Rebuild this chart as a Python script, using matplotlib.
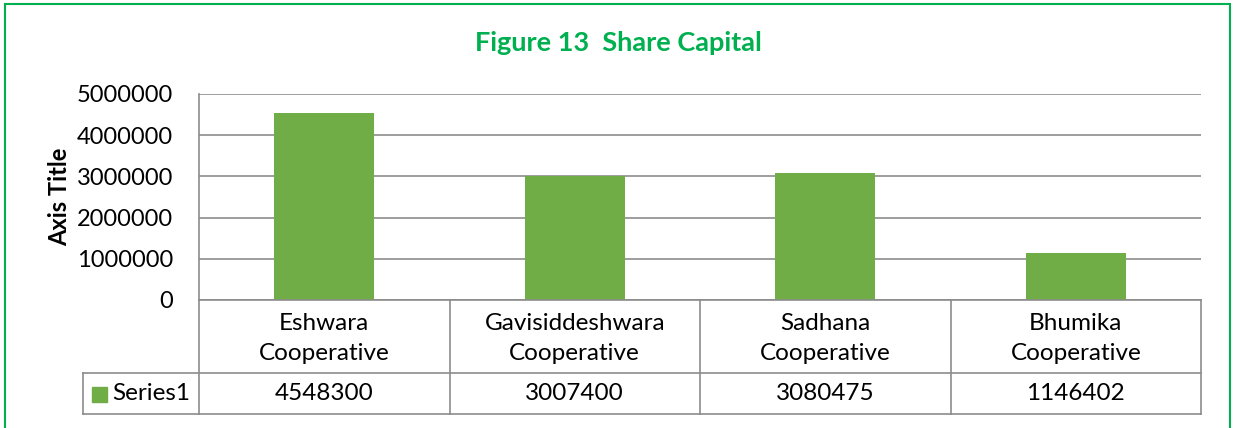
import matplotlib.pyplot as plt
from matplotlib.patches import Rectangle
from matplotlib.lines import Line2D
from matplotlib.transforms import blended_transform_factory

categories = ["Eshwara\nCooperative", "Gavisiddeshwara\nCooperative",
              "Sadhana\nCooperative", "Bhumika\nCooperative"]
values = [4548300, 3007400, 3080475, 1146402]
series_name = "Series1"
yticks = [0, 1000000, 2000000, 3000000, 4000000, 5000000]

W, H = 1236, 428
bar_color = "#70AD47"
grid_color = "#8C8C8C"
title_color = "#00B050"

plt.rcParams['font.family'] = ['Lato', 'DejaVu Sans']

fig = plt.figure(figsize=(W / 100, H / 100), dpi=100)

def fx(px):
    return px / W

def fy(py):
    return 1 - py / H

ax = fig.add_axes([fx(199), fy(300), fx(1201) - fx(199), fy(94) - fy(300)])
xs = list(range(len(values)))
ax.bar(xs, values, width=0.4, color=bar_color, zorder=3)
ax.set_xlim(-0.5, len(values) - 0.5)
ax.set_ylim(0, 5000000)
ax.set_yticks(yticks)
ax.set_yticklabels([str(v) for v in yticks], fontsize=17)
ax.set_xticks([])
ax.tick_params(axis='y', length=0, pad=18.5)
ax.grid(axis='y', color=grid_color, linewidth=1.2, zorder=0)
for s in ['top', 'right', 'bottom']:
    ax.spines[s].set_visible(False)
ax.spines['left'].set_color(grid_color)
ax.spines['left'].set_linewidth(1.2)
ax.set_ylabel("Axis Title", fontsize=17, fontweight='bold', labelpad=4)

fig.text(fx(618), fy(43), "Figure 13  Share Capital", color=title_color,
         fontsize=19.5, fontweight='bold', ha='center', va='center')

# data table below the plot
tr = blended_transform_factory(ax.transData, fig.transFigure)
ytop, ymid, ybot = fy(300), fy(373), fy(414)
lkw = dict(color=grid_color, linewidth=1.2, clip_on=False)
edges = [i - 0.5 for i in range(len(values) + 1)]
for e in edges:
    fig.add_artist(Line2D([e, e], [ybot, ytop], transform=tr, **lkw))
fig.add_artist(Line2D([edges[0], edges[-1]], [ytop, ytop], transform=tr, **lkw))
fig.add_artist(Line2D([fx(83), fx(1201)], [ymid, ymid], **lkw))
fig.add_artist(Line2D([fx(83), fx(1201)], [ybot, ybot], **lkw))
fig.add_artist(Line2D([fx(83), fx(83)], [ybot, ymid], **lkw))

for i, (c, v) in enumerate(zip(categories, values)):
    fig.text(i, (ytop + ymid) / 2 - 0.005, c, transform=tr, ha='center',
             va='center', fontsize=17.5, linespacing=1.5)
    fig.text(i, (ymid + ybot) / 2, str(v), transform=tr, ha='center',
             va='center', fontsize=17.5)

fig.add_artist(Rectangle((fx(92), fy(402)), fx(15), fy(387) - fy(402),
                         color=bar_color))
fig.text(fx(112), (ymid + ybot) / 2, series_name, ha='left', va='center',
         fontsize=17.5)

# green outer frame
fig.add_artist(Rectangle((fx(5), -0.1), fx(1230) - fx(5), fy(4) + 0.1,
                         fill=False, edgecolor=title_color, linewidth=1.5))

fig.savefig("out.png", dpi=100)
